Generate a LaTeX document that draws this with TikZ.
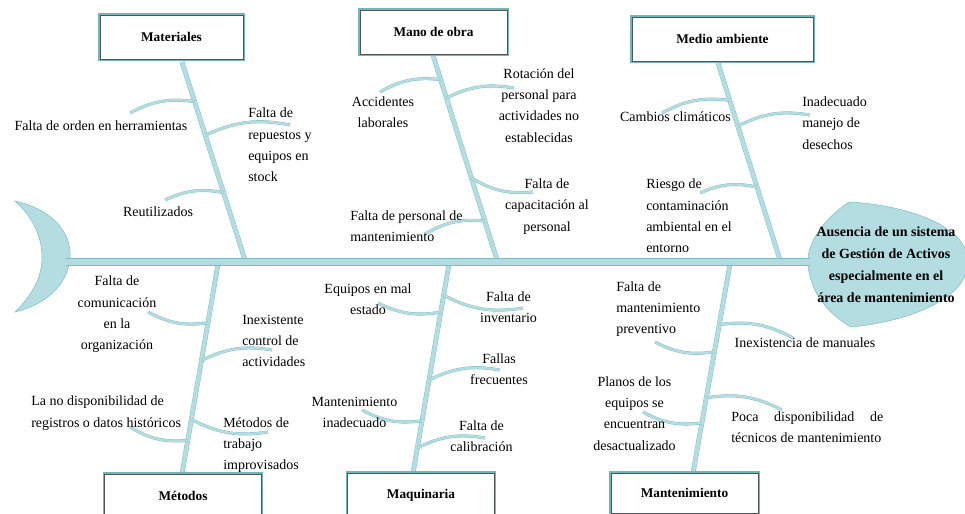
\documentclass[tikz,border=0pt]{standalone}
\usepackage{fontspec}
\setmainfont{Liberation Serif}
\usepackage{tikz}
\usetikzlibrary{calc}
\definecolor{bonefill}{HTML}{B4DDE1}
\definecolor{boneedge}{HTML}{7FBDC3}
\definecolor{boxedge}{HTML}{72B5BA}
\definecolor{boxline}{HTML}{4F5658}
\tikzset{
  spine/.style={draw=boneedge,line width=0.4pt,double=bonefill,double distance=5pt},
  bone/.style={draw=boneedge,line width=0.3pt,double=bonefill,double distance=3pt},
  rib/.style={draw=boneedge,line width=0.3pt,double=bonefill,double distance=1.7pt},
  catbox/.style={draw=boxline,line width=0.5pt,fill=white,preaction={draw=boxedge,line width=2.6pt},minimum height=33pt,font=\fontsize{10}{12}\selectfont\bfseries},
  cause/.style={font=\fontsize{10.5}{16}\selectfont,inner sep=0pt,align=center},
  causeL/.style={cause,align=left,anchor=west},
}

\begin{document}
\begin{tikzpicture}[x=0.75pt,y=-0.75pt]
  \useasboundingbox (0,0) rectangle (965,514);
  % tail and head
  \path[fill=bonefill,draw=boneedge,line width=0.4pt] (15,201) .. controls (55,210) and (72,235) .. (70,258) .. controls (68,285) and (45,305) .. (15,312) .. controls (35,292) and (42,275) .. (42,257) .. controls (42,238) and (34,218) .. (15,201) -- cycle;
  \coordinate (tail) at (66,262);
  \path[fill=bonefill,draw=boneedge,line width=0.4pt] (849,202) .. controls (822,220) and (806,245) .. (808,265) .. controls (810,290) and (826,313) .. (851,327) .. controls (905,322) and (968,300) .. (968,262) .. controls (968,225) and (905,205) .. (849,202) -- cycle;
  \coordinate (headL) at (810,262);
  \node[font=\fontsize{10.5}{16.5}\selectfont\bfseries,align=center,inner sep=0pt] (effect) at (886,265) {Ausencia de un sistema\\de Gestión de Activos\\especialmente en el\\área de mantenimiento};
  % bones
  \foreach \n/\ax/\ay/\bx/\by in {mat/182/62/245/260,mano/433/55/497/260,medio/718/63/780/260,met/218/264/182/474,maq/449/264/413/473,man/730/264/693/473} {
    \coordinate (\n1) at (\ax,\ay);
    \coordinate (\n2) at (\bx,\by);
    \draw[bone] (\n1) -- (\n2);
  }
  % spine
  \draw[spine] (tail) -- (headL);
  % ribs: id/bone/position/free end/bend
  \foreach \id/\bn/\t/\x/\y/\b in {
    r1/mat/0.20/130/113/-18, r2/mat/0.37/290/125/18, r3/mat/0.66/165/200/-18,
    r4/mano/0.12/380/92/-18, r5/mano/0.21/514/88/18, r6/mano/0.60/533/192/-18, r7/mano/0.81/425/234/-18,
    r8/medio/0.19/662/113/-18, r9/medio/0.32/810/115/18, r10/medio/0.63/700/193/-18,
    s1/met/0.28/148/312/18, s2/met/0.46/272/350/18, s3/met/0.84/130/427/18, s4/met/0.74/268/432/-18,
    s5/maq/0.23/378/303/18, s6/maq/0.15/523/308/-18, s7/maq/0.555/500/370/18, s8/maq/0.75/362/410/18, s9/maq/0.88/485/438/18,
    s10/man/0.42/655/342/18, s11/man/0.29/793/338/18, s12/man/0.76/643/412/18, s13/man/0.64/782/410/18} {
    \coordinate (\id) at (\x,\y);
    \draw[rib] ($(\bn1)!\t!(\bn2)$) to[bend left=\b] (\id);
  }
  % causes above the spine
  \node[cause] (c1) at (101,126) {Falta de orden en herramientas};
  \node[causeL] (c2) at (248,145) {Falta de\\repuestos y\\equipos en\\stock};
  \node[cause] (c3) at (158,212) {Reutilizados};
  \node[cause] (c4) at (383,112) {Accidentes\\laborales};
  \node[cause] (c5) at (539,105.5) {Rotación del\\personal para\\actividades no\\establecidas};
  \node[cause] (c6) at (547,206.5) {Falta de\\capacitación al\\personal};
  \node[causeL] (c7) at (350,226.5) {Falta de personal de\\mantenimiento};
  \node[cause] (c8) at (675.5,117) {Cambios climáticos};
  \node[causeL] (c9) at (802,123) {Inadecuado\\manejo de\\desechos};
  \node[causeL] (c10) at (646,216) {Riesgo de\\contaminación\\ambiental en el\\entorno};
  % causes below the spine
  \node[cause] (d1) at (117,314.5) {Falta de\\comunicación\\en la\\organización};
  \node[causeL] (d2) at (242,341) {Inexistente\\control de\\actividades};
  \node[causeL] (d3) at (31,413) {La no disponibilidad de\\registros o datos históricos};
  \node[causeL] (d4) at (223,445) {Métodos de\\trabajo\\improvisados};
  \node[cause] (d5) at (368,299) {Equipos en mal\\estado};
  \node[cause] (d6) at (508.5,307.5) {Falta de\\inventario};
  \node[cause] (d7) at (499,369.5) {Fallas\\frecuentes};
  \node[cause] (d8) at (354.5,412.5) {Mantenimiento\\inadecuado};
  \node[cause] (d9) at (481.5,436) {Falta de\\calibración};
  \node[causeL] (d10) at (616,309) {Falta de\\mantenimiento\\preventivo};
  \node[cause] (d11) at (805,343) {Inexistencia de manuales};
  \node[cause] (d12) at (634.5,413.5) {Planos de los\\equipos se\\encuentran\\desactualizado};
  \node[causeL] (d13) at (731,427.5) {\makebox[114pt][s]{Poca disponibilidad de}\\técnicos de mantenimiento};
  % category boxes
  \node[catbox,minimum width=107pt] (materiales) at (171.5,37) {Materiales};
  \node[catbox,minimum width=110pt] (manoobra) at (433.5,32) {Mano de obra};
  \node[catbox,minimum width=136pt] (medioamb) at (722.5,39) {Medio ambiente};
  \node[catbox,minimum width=118pt] (metodos) at (183,496) {Métodos};
  \node[catbox,minimum width=110pt] (maquinaria) at (421,495) {Maquinaria};
  \node[catbox,minimum width=110pt,minimum height=30pt] (mantenim) at (684.5,493) {Mantenimiento};
\end{tikzpicture}
\end{document}
